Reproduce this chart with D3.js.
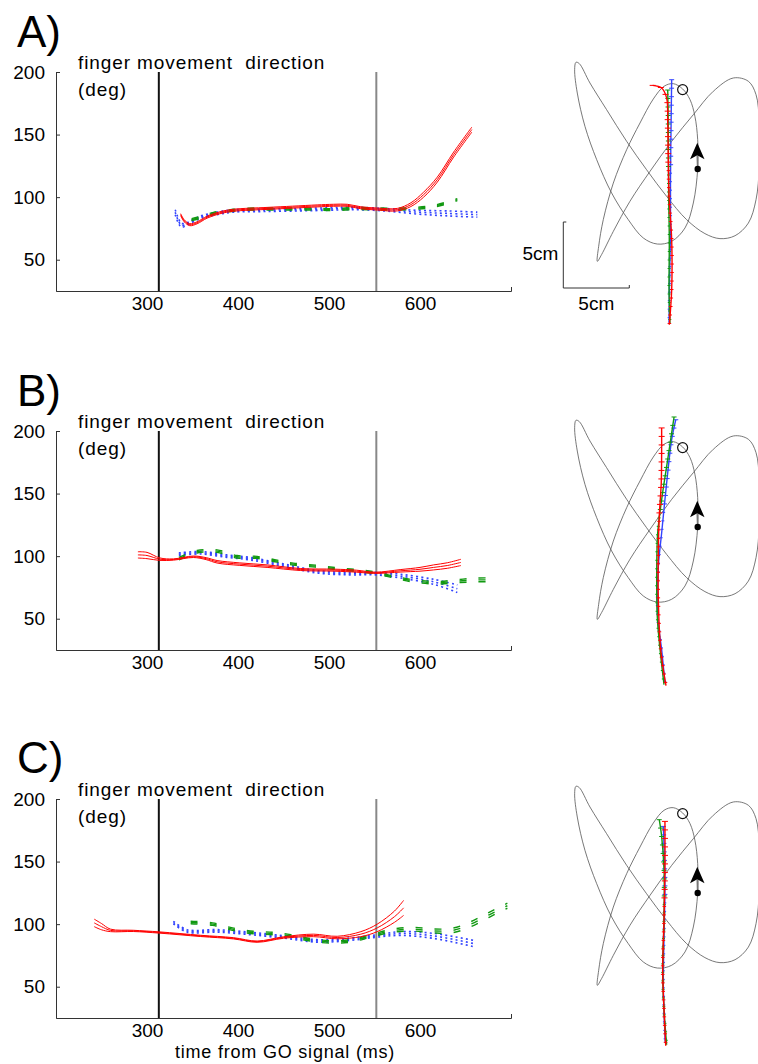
<!DOCTYPE html>
<html>
<head>
<meta charset="utf-8">
<script src="https://cdn.jsdelivr.net/npm/d3@7"></script>
<style>
body { margin: 0; background: #fff; }
text { font-family: "Liberation Sans", Arial, sans-serif; }
</style>
</head>
<body>
<div id="fig"></div>
<script>
// axis ticks
var timeTicks = [300, 400, 500, 600];
var degTicks = [50, 100, 150, 200];
var panelNames = ['A)', 'B)', 'C)'];
var goTime = 313, gateTime = 552;

// ---- panel A : direction (deg) vs time (ms), mean and half-spread of 3 traces
var redA_t   = [337, 341, 347, 355, 366, 380, 395, 432, 460, 487, 505, 520, 535, 553, 575, 590, 604, 619, 637, 657];
var redA_deg = [86, 81, 78, 79.5, 84, 87.5, 89.5, 91, 92, 93, 93.5, 93.5, 91.5, 90.5, 90, 94, 102, 114, 134, 154];
var redA_sd  = [0.8, 0.8, 0.8, 0.8, 0.8, 0.8, 0.8, 0.8, 0.8, 0.8, 0.8, 0.8, 0.8, 0.8, 1, 1.5, 2, 2, 2, 2];
var greenA_t   = [349, 360, 373, 395, 417, 440, 461, 483, 505, 530, 553, 575, 595, 617, 641];
var greenA_deg = [82, 84, 87, 89.5, 90.5, 90.5, 90.5, 90.5, 90, 91, 90.5, 90.5, 91, 93, 98];
var greenA_sd  = [0.8, 0.8, 0.8, 0.8, 0.8, 0.8, 0.8, 0.8, 0.8, 0.8, 0.8, 0.8, 0.8, 0.8, 0.8];
var blueA_t   = [331, 334, 338, 345, 359, 377, 395, 430, 469, 500, 524, 560, 597, 630, 663];
var blueA_deg = [88, 82, 77.5, 79, 84, 87, 89, 89.5, 90, 90.5, 91, 90, 88, 87, 86];
var blueA_sd  = [2, 2, 1.5, 1, 1, 1, 1, 1, 1, 1, 1, 1, 1.5, 2, 2];

// ---- panel B
var redB_t   = [290, 300, 314, 329, 351, 365, 377, 402, 432, 469, 506, 530, 551, 579, 600, 615, 630, 645];
var redB_deg = [101, 100.5, 97.6, 97.3, 99.5, 98, 95.5, 93.6, 92, 89.3, 88.8, 88, 86.7, 88.3, 89.5, 91, 92.5, 95];
var redB_sd  = [2.5, 2.5, 1, 0.5, 0.6, 0.8, 1, 1, 1, 0.8, 0.8, 0.8, 0.5, 1, 1.5, 2, 2.2, 2.5];
var greenB_t   = [335, 355, 377, 399, 421, 443, 461, 485, 508, 530, 551, 573, 595, 619, 641, 663, 685];
var greenB_deg = [98, 103.5, 104, 99.5, 99, 96, 93.6, 92, 90, 88.5, 86.7, 83, 80, 78.7, 80, 81, 81];
var greenB_sd  = [1, 1, 1, 1, 0.8, 0.8, 0.8, 0.8, 0.8, 0.8, 0.8, 0.8, 1, 1, 1.2, 1.5, 1.5];
var blueB_t   = [335, 359, 388, 413, 450, 487, 523, 551, 579, 615, 641];
var blueB_deg = [101.6, 102.7, 100, 98, 92.8, 87.5, 86, 86, 84, 79.5, 74];
var blueB_sd  = [1, 1, 1, 1, 1, 1, 1, 1, 1.5, 2, 3];

// ---- panel C
var redC_t   = [242, 250, 260, 285, 314, 359, 395, 421, 450, 483, 509, 535, 553, 572, 582];
var redC_deg = [101, 98, 95, 94.6, 93.3, 90.6, 88.7, 86, 89.3, 91, 89.3, 92, 97, 106, 113];
var redC_sd  = [3, 2.5, 1, 0.5, 0.5, 0.5, 0.5, 0.5, 0.6, 1, 1, 2, 3, 4.5, 6];
var greenC_t   = [348, 372, 394, 417, 439, 458, 480, 502, 524, 546, 568, 592, 614, 636, 656, 676, 696];
var greenC_deg = [101.3, 100, 96, 93.3, 92.5, 90.6, 87.4, 85.8, 86.6, 90.6, 94.6, 96, 94.6, 95, 100, 107.5, 114.7];
var greenC_sd  = [1, 1, 1, 1, 1, 1, 1, 1, 1, 1, 1.2, 1.5, 1.5, 1.8, 2, 2, 2];
var blueC_t   = [329, 344, 377, 414, 450, 487, 524, 553, 579, 615, 659];
var blueC_deg = [101.3, 94.6, 94.6, 92.5, 89.8, 86.6, 88, 90.6, 92.5, 90.6, 84.5];
var blueC_sd  = [1, 1, 1, 1, 1, 1, 1, 1, 1.5, 2, 2.5];

// ---- drawn template path (cm), same in every panel
var tmplX = [10.18, 10.18, 9.97, 9.60, 9.04, 8.33, 7.63, 6.82, 5.81, 4.80, 3.79, 3.03, 2.68, 2.58, 2.90, 3.79, 5.05, 6.57, 8.21, 9.85,
             11.36, 12.88, 14.02, 14.60, 14.85, 14.85, 14.60, 14.02, 13.01, 11.87, 10.73, 9.34, 7.83, 6.31, 4.80, 3.28, 2.02, 1.21, 0.96, 0.86,
             1.06, 1.64, 2.53, 3.66, 4.92, 6.06, 7.12, 8.21, 9.22, 9.85];
var tmplY = [9.02, 11.24, 13.01, 14.27, 15.08, 15.48, 15.28, 14.32, 12.50, 10.48, 7.95, 5.18, 3.16, 2.02, 2.53, 4.29, 6.57, 8.84, 11.11, 13.13,
             14.90, 15.91, 15.66, 14.65, 12.50, 9.22, 6.69, 4.92, 3.96, 3.74, 4.12, 5.18, 6.94, 8.96, 11.11, 13.51, 15.53, 17.00, 17.10, 16.54,
             14.77, 12.25, 9.72, 7.20, 5.18, 3.79, 3.33, 3.54, 4.55, 6.44];
var startPt = [10.18, 9.02], targetPt = [9.04, 15.03];
var arrowX = [10.15, 9.6, 10.15, 10.7], arrowY = [11.0, 9.75, 10.05, 9.75];

// ---- finger paths (cm)
var redA_x = [6.77, 7.45, 7.83, 7.91, 7.95, 8.01, 8.21, 8.21, 8.03];
var redA_y = [15.35, 15.15, 14.39, 12.62, 10.10, 7.07, 3.66, -0.13, -2.78];
var greenA_x = [7.91, 7.95, 7.98, 8.03, 8.01, 8.08];
var greenA_y = [15.0, 12.62, 7.07, 3.66, -0.13, -2.65];
var blueA_x = [8.21, 8.16, 8.12, 8.12, 8.05, 8.01];
var blueA_y = [15.78, 11.99, 8.20, 4.42, 0.63, -2.63];

var redB_x = [7.45, 7.45, 7.42, 7.27, 7.20, 7.20, 7.38, 7.78];
var redB_y = [16.52, 14.87, 12.35, 9.82, 7.30, 3.51, -0.28, -3.01];
var greenB_x = [8.39, 8.21, 7.83, 7.45, 7.15, 7.08, 7.12, 7.33, 7.63];
var greenB_y = [17.35, 16.14, 13.61, 11.08, 8.56, 6.03, 2.24, -0.28, -2.93];
var blueB_x = [8.52, 8.21, 7.83, 7.45, 7.20, 7.15, 7.45, 7.70];
var blueB_y = [17.14, 15.63, 12.35, 8.56, 6.03, 2.24, -0.28, -2.80];

var redC_x = [7.70, 7.70, 7.63, 7.53, 7.63, 7.76];
var redC_y = [14.44, 10.78, 6.99, 3.20, 0.17, -2.55];
var greenC_x = [7.27, 7.45, 7.63, 7.63, 7.53, 7.63, 7.83];
var greenC_y = [14.57, 13.30, 10.78, 6.99, 3.20, 0.17, -2.48];
var blueC_x = [7.58, 7.70, 7.63, 7.58, 7.73];
var blueC_y = [14.06, 9.52, 5.73, 1.94, -2.35];

var panels = [
  { top: 72,  orig: 216, red: [redA_t, redA_deg, redA_sd], green: [greenA_t, greenA_deg, greenA_sd], blue: [blueA_t, blueA_deg, blueA_sd],
    fr: [redA_x, redA_y], fg: [greenA_x, greenA_y], fb: [blueA_x, blueA_y] },
  { top: 431, orig: 215, red: [redB_t, redB_deg, redB_sd], green: [greenB_t, greenB_deg, greenB_sd], blue: [blueB_t, blueB_deg, blueB_sd],
    fr: [redB_x, redB_y], fg: [greenB_x, greenB_y], fb: [blueB_x, blueB_y] },
  { top: 799, orig: 213, red: [redC_t, redC_deg, redC_sd], green: [greenC_t, greenC_deg, greenC_sd], blue: [blueC_t, blueC_deg, blueC_sd],
    fr: [redC_x, redC_y], fg: [greenC_x, greenC_y], fb: [blueC_x, blueC_y] }
];

var RED = '#ff0000', GREEN = '#119911', BLUE = '#3344ff';

var svg = d3.select('#fig').append('svg')
    .attr('width', 758)
    .attr('height', 1064);

var x = d3.scaleLinear().domain([200, 700]).range([56, 511]);
var y = d3.scaleLinear().domain([25, 200]).range([219, 0]);
var cm = d3.scaleLinear().domain([0, 5]).range([0, 66]);

panels.forEach(function(p, i) {
    var g = svg.append('g').attr('transform', 'translate(0,' + p.top + ')');

    g.append('text')
        .attr('x', 17).attr('y', -25 - (i == 2 ? 1 : 0))
        .attr('font-size', 44)
        .text(panelNames[i]);

    g.append('text')
        .attr('x', 78).attr('y', -3)
        .attr('font-size', 19)
        .attr('letter-spacing', 0.9)
        .style('white-space', 'pre')
        .text('finger movement  direction');
    g.append('text')
        .attr('x', 78).attr('y', 24)
        .attr('font-size', 19)
        .attr('letter-spacing', 0.9)
        .text('(deg)');

    var ya = g.append('g')
        .attr('transform', 'translate(56,0)')
        .call(d3.axisLeft(y).tickValues(degTicks).tickSize(-4).tickSizeOuter(0).tickPadding(11));
    var xa = g.append('g')
        .attr('transform', 'translate(0,219)')
        .call(d3.axisBottom(x).tickValues(timeTicks).tickSize(0).tickSizeOuter(-4).tickPadding(5.5));
    [ya, xa].forEach(function(a) {
        a.selectAll('path, line').attr('stroke', '#333');
        a.selectAll('text').attr('font-size', 19).attr('fill', '#000')
            .attr('font-family', '"Liberation Sans", Arial, sans-serif');
    });

    g.append('line')
        .attr('x1', x(goTime)).attr('x2', x(goTime))
        .attr('y1', y(200)).attr('y2', y(25))
        .attr('stroke', '#111').attr('stroke-width', 2);
    g.append('line')
        .attr('x1', x(gateTime)).attr('x2', x(gateTime))
        .attr('y1', y(200)).attr('y2', y(25))
        .attr('stroke', '#888').attr('stroke-width', 2);

    // bundles of three traces
    function bundle(s, color, dash, w) {
        var t = s[0], m = s[1], sd = s[2];
        [-1, 0, 1].forEach(function(k) {
            var pts = t.map(function(d, j) { return [d, m[j] + k * sd[j]]; });
            g.append('path')
                .attr('d', d3.line().curve(d3.curveCatmullRom)
                    .x(function(d) { return x(d[0]); })
                    .y(function(d) { return y(d[1]); })(pts))
                .attr('fill', 'none')
                .attr('stroke', color)
                .attr('stroke-width', w)
                .attr('stroke-dasharray', dash);
        });
    }
    bundle(p.blue, BLUE, '2,3.2', 1.6);
    bundle(p.green, GREEN, '7,12', 1.4);
    bundle(p.red, RED, null, 1);

    // right side: hand path in cm
    var ox = 563.3, oy = p.orig;
    var px = function(v) { return ox + cm(v); };
    var py = function(v) { return oy - cm(v); };

    var tmpl = tmplX.map(function(d, j) { return [d, tmplY[j]]; });
    g.append('path')
        .attr('d', d3.line().curve(d3.curveCatmullRomClosed.alpha(0.5))
            .x(function(d) { return px(d[0]); })
            .y(function(d) { return py(d[1]); })(tmpl))
        .attr('fill', 'none')
        .attr('stroke', '#555')
        .attr('stroke-width', 0.8);

    g.append('line')
        .attr('x1', px(startPt[0])).attr('y1', py(startPt[1]))
        .attr('x2', px(arrowX[2])).attr('y2', py(arrowY[2]))
        .attr('stroke', '#777').attr('stroke-width', 1.6);
    g.append('path')
        .attr('d', d3.line()
            .x(function(d, j) { return px(d); })
            .y(function(d, j) { return py(arrowY[j]); })(arrowX) + 'Z')
        .attr('fill', '#000');
    g.append('circle')
        .attr('cx', px(startPt[0])).attr('cy', py(startPt[1]))
        .attr('r', 3.2).attr('fill', '#000');
    g.append('circle')
        .attr('cx', px(targetPt[0])).attr('cy', py(targetPt[1]))
        .attr('r', 5).attr('fill', 'none').attr('stroke', '#111').attr('stroke-width', 1.2);

    function finger(s, color, tick) {
        var pts = s[0].map(function(d, j) { return [d, s[1][j]]; });
        var path = g.append('path')
            .attr('d', d3.line().curve(d3.curveCatmullRom)
                .x(function(d) { return px(d[0]); })
                .y(function(d) { return py(d[1]); })(pts))
            .attr('fill', 'none')
            .attr('stroke', color)
            .attr('stroke-width', 1.4);
        var node = path.node(), L = node.getTotalLength();
        for (var s2 = 0; s2 < L; s2 += 8.5) {
            var q = node.getPointAtLength(s2);
            var hw = s2 < L * 0.35 ? tick : tick * 0.6;
            g.append('line')
                .attr('x1', q.x - hw).attr('x2', q.x + hw)
                .attr('y1', q.y).attr('y2', q.y)
                .attr('stroke', color).attr('stroke-width', 1);
        }
    }
    finger(p.fb, BLUE, 2.5);
    finger(p.fg, GREEN, 2.5);
    finger(p.fr, RED, 3);

    if (i == 0) {
        // scale bar 5 cm
        g.append('path')
            .attr('d', 'M' + (px(0) + 3) + ',' + py(5) + 'H' + px(0) + 'V' + py(0) + 'H' + px(5) + 'V' + (py(0) - 3))
            .attr('fill', 'none').attr('stroke', '#333').attr('stroke-width', 1);
        g.append('text')
            .attr('x', px(0) - 5).attr('y', py(2.1))
            .attr('text-anchor', 'end')
            .attr('font-size', 19)
            .text('5cm');
        g.append('text')
            .attr('x', px(2.5)).attr('y', py(0) + 22)
            .attr('text-anchor', 'middle')
            .attr('font-size', 19)
            .text('5cm');
    }

    if (i == 2) {
        g.append('text')
            .attr('x', 285).attr('y', 258.5)
            .attr('text-anchor', 'middle')
            .attr('font-size', 18)
            .attr('letter-spacing', 0.8)
            .text('time from GO signal (ms)');
    }
});
</script>
</body>
</html>
